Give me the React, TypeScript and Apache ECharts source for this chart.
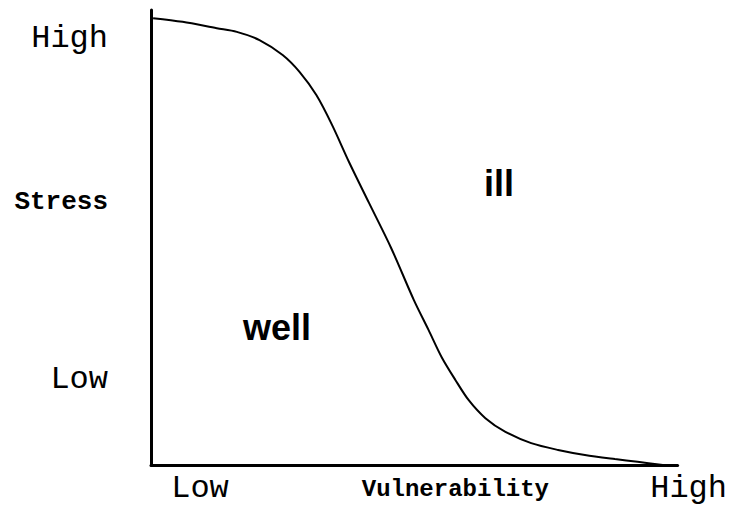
import React, { useEffect, useRef } from "react";
import * as echarts from "echarts";

// Curve: vulnerability (0-100) vs stress (0-100)
const vulnerability = [0.4, 6.0, 12.5, 16.3, 20.6, 25.0, 28.2, 31.4, 34.4, 37.6, 41.4, 45.6, 49.9, 52.7, 55.2, 57.8, 60.3, 63.5, 67.3, 72.2, 77.3, 82.4, 88.1, 92.4, 97.2];
const stress = [98.2, 97.4, 96.0, 95.2, 93.4, 90.1, 86.4, 81.3, 74.7, 66.6, 57.6, 47.7, 36.3, 29.7, 23.7, 18.7, 14.3, 10.3, 7.3, 4.8, 3.3, 2.2, 1.3, 0.7, 0.0];

// Axis tick labels
const yTickValues = [18.8, 57.7, 93.7];
const yTickLabels = ["Low", "Stress", "High"];
const xTickValues = [9.3, 57.8, 100];
const xTickLabels = ["Low", "Vulnerability", "High"];

// Region labels
const regionLabels = ["well", "ill"];

const MONO = "'Courier New', 'Liberation Mono', monospace";
const SANS = "Arial, 'Liberation Sans', Helvetica, sans-serif";

export default function App() {
  const ref = useRef<HTMLDivElement>(null);

  useEffect(() => {
    if (!ref.current) return;
    const chart = echarts.init(ref.current, null, { renderer: "svg" });
    const lineData = vulnerability.map((v, i) => [v, stress[i]]);
    const yLabel = (val: number) => {
      const i = yTickValues.findIndex((t) => Math.abs(t - val) < 1e-6);
      if (i < 0) return "";
      const s = yTickLabels[i];
      return s === "Stress" ? `{b|${s}}` : `{n|${s}}`;
    };
    const xLabel = (val: number) => {
      const i = xTickValues.findIndex((t) => Math.abs(t - val) < 1e-6);
      if (i < 0) return "";
      const s = xTickLabels[i];
      if (s === "Vulnerability") return `{b|${s}}`;
      if (i === xTickValues.length - 1) return `{h|${s}}`;
      return `{n|${s}}`;
    };
    chart.setOption({
      animation: false,
      backgroundColor: "#ffffff",
      grid: { left: 151, right: 50, top: 10, bottom: 42 },
      xAxis: {
        type: "value",
        min: 0,
        max: 100,
        axisLine: { show: true, lineStyle: { color: "#000", width: 3 } },
        axisTick: { show: false },
        splitLine: { show: false },
        axisLabel: {
          show: true,
          customValues: xTickValues,
          formatter: xLabel,
          margin: 9,
          verticalAlign: "top",
          rich: {
            n: { fontFamily: MONO, fontSize: 32, color: "#000", lineHeight: 28 },
            h: { fontFamily: MONO, fontSize: 32, color: "#000", lineHeight: 28, padding: [0, 0, 0, 22] },
            b: { fontFamily: MONO, fontSize: 24, fontWeight: "bold", color: "#000", lineHeight: 28, padding: [3, 0, 0, 0] },
          },
        },
      },
      yAxis: {
        type: "value",
        min: 0,
        max: 100,
        axisLine: { show: true, lineStyle: { color: "#000", width: 3 } },
        axisTick: { show: false },
        splitLine: { show: false },
        axisLabel: {
          show: true,
          customValues: yTickValues,
          formatter: yLabel,
          margin: 43,
          align: "right",
          rich: {
            n: { fontFamily: MONO, fontSize: 32, color: "#000" },
            b: { fontFamily: MONO, fontSize: 26, fontWeight: "bold", color: "#000" },
          },
        },
      },
      graphic: [
        {
          type: "text",
          left: 243,
          top: 309,
          style: { text: regionLabels[0], font: `bold 36px ${SANS}`, fill: "#000" },
        },
        {
          type: "text",
          left: 484,
          top: 165,
          style: { text: regionLabels[1], font: `bold 36px ${SANS}`, fill: "#000" },
        },
      ],
      series: [
        {
          type: "line",
          data: lineData,
          smooth: 0.3,
          symbol: "none",
          clip: false,
          lineStyle: { color: "#000", width: 2 },
        },
      ],
    });
    return () => chart.dispose();
  }, []);

  return (
    <div
      ref={ref}
      style={{ position: "fixed", left: 0, top: 0, width: 730, height: 507, background: "#fff" }}
    />
  );
}
